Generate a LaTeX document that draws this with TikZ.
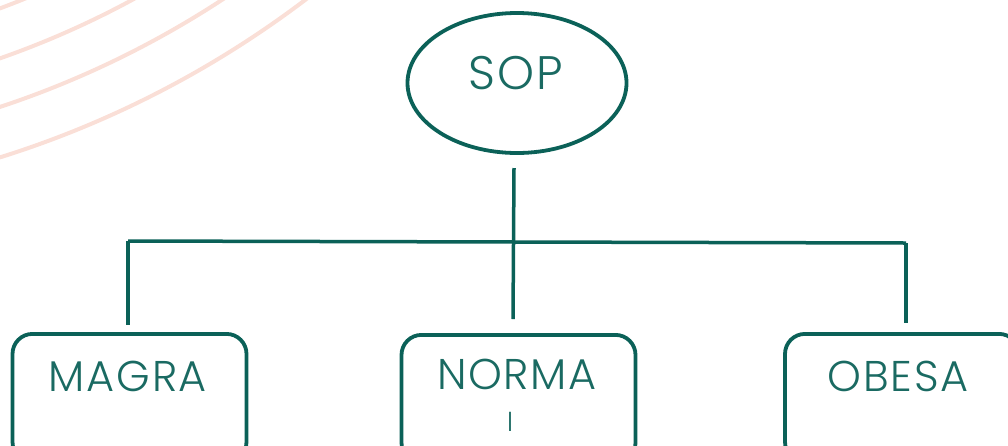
\documentclass[tikz,border=0pt]{standalone}
\usepackage{fontspec}
\setmainfont{Poppins}[UprightFont=* Light]
\newfontfamily\lblfont{Poppins}[UprightFont=* Light, LetterSpace=4]
\usetikzlibrary{shapes.geometric}
\definecolor{teal1}{HTML}{0B6158}
\definecolor{tealtext}{HTML}{1A6A62}
\definecolor{pinkarc}{HTML}{FADFD7}
\tikzset{
  arcline/.style={draw=pinkarc, line width=4pt},
  conn/.style={draw=teal1, line width=3.5pt},
  catbox/.style={draw=teal1, line width=3.8pt, rounded corners=20pt, minimum width=234pt, minimum height=128pt, anchor=north, inner sep=0pt},
  rootshape/.style={ellipse, draw=teal1, line width=3.8pt, minimum width=219pt, minimum height=140pt, inner sep=0pt},
  lbl/.style={text=tealtext, font=\lblfont\fontsize{43}{48}\selectfont, inner sep=0pt, anchor=base},
}
\begin{document}
\begin{tikzpicture}[x=1pt, y=-1pt]
\useasboundingbox (0,0) rectangle (1008,445);
\clip (0,0) rectangle (1008,445);
% background arcs
\foreach \r in {862,909,955,1003} {
  \draw[arcline] (-300,-800) circle[radius=\r pt];
}
% root
\node[rootshape] (sop) at (517,83) {};
\node[lbl, font=\lblfont\fontsize{47}{52}\selectfont] (soptext) at (516,89) {SOP};
% boxes
\node[catbox] (magra) at (129.5,332) {};
\node[catbox] (norma) at (518.5,333) {};
\node[catbox] (obesa) at (902,332) {};
\node[lbl] (magratext) at (128,391) {MAGRA};
\node[lbl] (normatext) at (517,389) {NORMA};
\node[lbl, font=\lblfont\fontsize{26}{30}\selectfont] (normal2) at (510,431) {l};
\node[lbl] (obesatext) at (898,391) {OBESA};
% bus coordinates
\coordinate (stemtop) at (514,168);
\coordinate (stembot) at (513,319);
\coordinate (busL) at (128,241);
\coordinate (busR) at (906,243);
\coordinate (legL) at (128,325);
\coordinate (legR) at (906,323);
% connectors
\draw[conn] (stemtop) -- (stembot);
\draw[conn] (busL) -- (busR);
\draw[conn] (busL) -- (legL);
\draw[conn] (busR) -- (legR);
\end{tikzpicture}
\end{document}
